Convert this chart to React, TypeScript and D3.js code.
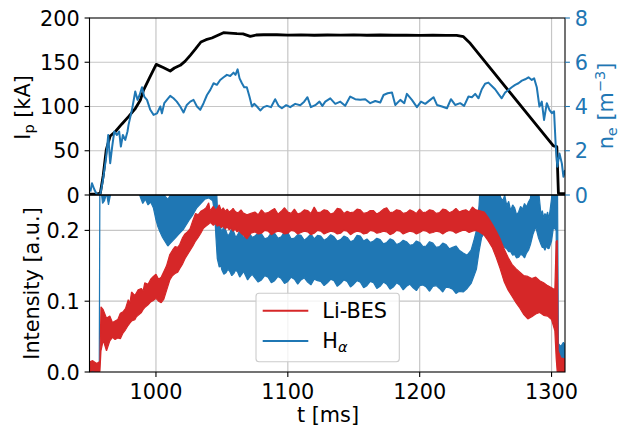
import React from 'react';
import * as d3 from 'd3';

const tTicks = [1000, 1100, 1200, 1300];
const ipTicks = [0, 50, 100, 150, 200];
const neTicks = [0, 2, 4, 6, 8];
const intTicks = [0.0, 0.1, 0.2];
const intTickLabels = ['0.0', '0.1', '0.2'];

// Plasma current Ip [kA] vs t [ms]
const ipData: [number, number][] = [
  [949.6, 1], [955, 1], [957.8, 2], [960, 22], [962.3, 51], [965.3, 66.7], [969.1, 71.5], [974, 80],
  [979.2, 88.5], [984, 97], [988.1, 107], [990.6, 118.6], [995, 132], [1000.2, 147.6], [1005.5, 144],
  [1010.8, 140.1], [1014, 143.5], [1018.4, 146.5], [1022, 151], [1026, 157.8], [1030, 165], [1034.1, 172.9],
  [1038, 175.5], [1042.4, 177.4], [1047, 180.5], [1051.2, 183.4], [1056, 183], [1061.4, 182.3], [1066, 182],
  [1071.5, 179.2], [1076, 180.8], [1081.6, 181.1], [1091.7, 181.1], [1100, 180.6], [1110, 181], [1120, 180.5],
  [1130, 180.8], [1140, 180.6], [1150, 180.9], [1160, 180.5], [1170, 180.8], [1180, 180.5], [1190, 180.7],
  [1200, 180.4], [1210, 180.6], [1220, 180.3], [1228, 180.4], [1233.2, 178.9], [1238.3, 171.4],
  [1301.4, 55.4], [1304, 54.6], [1305.2, 1.9], [1310.2, 1.5],
];

// Line-averaged density ne vs t
const neData: [number, number][] = [
  [950.3, 0.15], [951.5, 0.53], [953.2, 0.26], [955.3, 0.0], [957.8, 0.03], [959.8, 0.68], [962.3, 1.73],
  [963.8, 2.71], [965.3, 1.44], [966.8, 2.19], [968.4, 2.87], [970.4, 2.71], [972.1, 2.87], [973.4, 2.19],
  [974.9, 2.71], [976.7, 2.49], [978.4, 2.87], [979.2, 3.17], [981.8, 3.85], [984.3, 4.68], [986.0, 4.3],
  [987.6, 4.52], [989.4, 4.87], [991.1, 4.45], [993.2, 4.3], [995.7, 3.85], [998.2, 3.62], [1000.8, 3.69],
  [1003.3, 4.0], [1004.5, 3.69], [1006.3, 4.15], [1008.3, 4.3], [1010.8, 4.48], [1013.3, 4.37], [1015.8, 4.22],
  [1018.4, 4.0], [1020.9, 3.73], [1023.4, 4.07], [1026, 4.22], [1028.5, 4.3], [1031.1, 4.0], [1033.6, 3.85],
  [1036.1, 4.15], [1038.7, 4.52], [1041.2, 4.75], [1043.7, 5.05], [1046.2, 4.98], [1048.7, 5.2], [1051.3, 5.32],
  [1053.8, 5.43], [1056.3, 5.38], [1058.8, 5.53], [1060.3, 5.43], [1061.9, 5.68], [1063.4, 5.27], [1065.2, 5.05],
  [1066.9, 4.87], [1068.9, 4.87], [1070.9, 4.45], [1072.8, 4.0], [1074.5, 4.12], [1076.6, 4.0], [1079.1, 3.82],
  [1081.6, 3.97], [1084.2, 4.03], [1087.2, 3.97], [1090.4, 4.33], [1093, 4.03], [1095.5, 3.92], [1098.8, 4.06],
  [1101.8, 3.97], [1105.6, 4.12], [1109.4, 4.06], [1112.4, 4.22], [1114.9, 4.42], [1117.5, 3.97], [1120.8, 4.06],
  [1124.0, 4.22], [1126.2, 4.03], [1128.4, 4.22], [1132.2, 4.37], [1136, 4.12], [1139.8, 4.22], [1143.5, 4.03],
  [1147.3, 4.45], [1151.1, 4.33], [1154.9, 4.3], [1158.7, 4.33], [1162.5, 4.15], [1166.3, 4.25], [1170.1, 4.18],
  [1172.6, 4.52], [1175.7, 4.6], [1179, 4.63], [1181.5, 4.07], [1185.3, 4.3], [1188.3, 4.15], [1190.3, 4.57],
  [1194.1, 4.3], [1197.9, 3.97], [1201, 4.22], [1204.2, 4.12], [1208, 4.3], [1210.5, 4.42], [1213.1, 4.07],
  [1216.9, 4.0], [1220.7, 3.92], [1223.7, 4.33], [1226.9, 4.07], [1230.7, 4.15], [1233.7, 4.03], [1237, 4.45],
  [1239.6, 4.42], [1242.1, 4.57], [1244.6, 4.37], [1247.1, 4.78], [1249.6, 5.03], [1252.1, 5.08], [1254.7, 4.93],
  [1257.2, 4.78], [1259.7, 4.57], [1262.2, 4.37], [1264.8, 4.63], [1267.3, 4.75], [1269.8, 4.87], [1272.4, 4.98],
  [1274.9, 5.05], [1277.5, 5.17], [1280, 5.23], [1282.5, 5.32], [1285, 5.2], [1286.8, 5.27], [1288.8, 4.87],
  [1290.8, 4.0], [1292.6, 4.22], [1294.3, 3.39], [1296.4, 4.15], [1298.4, 3.85], [1300.2, 3.7], [1301.9, 3.78],
  [1303.2, 2.19], [1304.4, 1.28], [1306, 1.88], [1307.8, 1.43], [1309, 0.83], [1310.3, 1.13],
];

// Li-BES intensity envelope: [t, low, high]
const liData: [number, number, number][] = [
  [949.5, 0.0, 0.014], [952, 0.002, 0.016], [955, 0.0, 0.012], [957.5, 0.001, 0.015], [958.3, 0.03, 0.092],
  [960, 0.045, 0.088], [962.5, 0.03, 0.076], [965, 0.044, 0.079], [967, 0.049, 0.07], [969, 0.046, 0.072],
  [971, 0.048, 0.074], [973, 0.047, 0.083], [975, 0.055, 0.085], [977, 0.06, 0.09], [979, 0.066, 0.102],
  [980.2, 0.069, 0.097], [981.5, 0.072, 0.113], [984, 0.074, 0.108], [985.2, 0.078, 0.112], [986.5, 0.08, 0.116],
  [989, 0.084, 0.118], [990.2, 0.088, 0.114], [991.5, 0.091, 0.126], [994, 0.095, 0.124], [996, 0.099, 0.131],
  [998, 0.101, 0.135], [1000, 0.104, 0.138], [1002, 0.1, 0.131], [1004, 0.098, 0.134], [1006, 0.103, 0.142],
  [1008, 0.115, 0.15], [1010.5, 0.13, 0.166], [1012.5, 0.136, 0.172], [1014.5, 0.139, 0.177], [1016.5, 0.141, 0.176],
  [1018, 0.146, 0.18], [1020, 0.152, 0.189], [1022, 0.16, 0.195], [1024, 0.166, 0.198], [1026, 0.172, 0.203],
  [1028, 0.178, 0.214], [1030, 0.185, 0.224], [1032, 0.19, 0.222], [1034, 0.196, 0.227], [1036, 0.203, 0.229],
  [1038, 0.206, 0.232], [1040, 0.209, 0.239], [1041, 0.211, 0.228], [1042, 0.21, 0.23], [1043.5, 0.207, 0.234],
  [1045, 0.21, 0.229], [1046.5, 0.206, 0.231], [1048, 0.208, 0.236], [1049.5, 0.204, 0.228], [1051, 0.206, 0.232],
  [1052.5, 0.202, 0.227], [1054, 0.205, 0.23], [1055.5, 0.201, 0.226], [1057, 0.203, 0.228], [1058.5, 0.199, 0.231],
  [1060, 0.202, 0.227], [1061.5, 0.198, 0.225], [1063, 0.2, 0.226], [1064.5, 0.196, 0.229], [1066, 0.194, 0.225],
  [1069, 0.188, 0.222], [1072, 0.196, 0.224],
  [1075, 0.198, 0.226], [1077.5, 0.195, 0.222], [1080, 0.196, 0.229], [1082.5, 0.2, 0.224], [1085, 0.199, 0.225],
  [1087.5, 0.194, 0.228], [1090, 0.197, 0.231], [1092.5, 0.199, 0.223], [1095, 0.198, 0.227], [1097.5, 0.195, 0.232],
  [1100, 0.196, 0.226], [1102.5, 0.2, 0.224], [1105, 0.199, 0.23], [1107.5, 0.195, 0.223], [1110, 0.197, 0.225],
  [1112.5, 0.199, 0.229], [1115, 0.198, 0.228], [1117.5, 0.194, 0.224], [1120, 0.196, 0.233], [1122.5, 0.2, 0.225],
  [1125, 0.199, 0.226], [1127.5, 0.195, 0.229], [1130, 0.197, 0.228], [1132.5, 0.199, 0.223], [1135, 0.198, 0.225],
  [1137.5, 0.195, 0.231], [1140, 0.196, 0.23], [1142.5, 0.2, 0.224], [1145, 0.199, 0.227], [1147.5, 0.194, 0.225],
  [1150, 0.197, 0.226], [1152.5, 0.199, 0.23], [1155, 0.198, 0.229], [1157.5, 0.195, 0.224], [1160, 0.196, 0.225],
  [1162.5, 0.2, 0.228], [1165, 0.199, 0.228], [1167.5, 0.196, 0.223], [1170, 0.197, 0.226], [1172.5, 0.199, 0.23],
  [1175, 0.198, 0.232], [1177.5, 0.194, 0.225], [1180, 0.196, 0.226], [1182.5, 0.2, 0.229], [1185, 0.199, 0.228],
  [1187.5, 0.195, 0.224], [1190, 0.197, 0.225], [1192.5, 0.199, 0.229], [1195, 0.198, 0.227], [1197.5, 0.195, 0.224],
  [1200, 0.197, 0.23], [1202.5, 0.2, 0.225], [1205, 0.199, 0.226], [1207.5, 0.196, 0.229], [1210, 0.197, 0.228],
  [1212.5, 0.199, 0.224], [1215, 0.198, 0.225], [1217.5, 0.195, 0.23], [1220, 0.198, 0.229], [1222.5, 0.2, 0.225],
  [1225, 0.199, 0.227], [1227.5, 0.196, 0.231], [1230, 0.198, 0.226], [1232.5, 0.2, 0.228], [1235, 0.2, 0.229],
  [1237.5, 0.197, 0.226], [1240, 0.199, 0.233], [1242.5, 0.2, 0.229], [1245, 0.198, 0.228],
  [1249, 0.193, 0.226], [1252, 0.185, 0.218], [1255, 0.176, 0.209], [1258, 0.162, 0.199], [1261, 0.146, 0.188],
  [1264, 0.128, 0.174], [1267, 0.116, 0.162], [1270, 0.107, 0.152], [1273, 0.098, 0.146], [1276, 0.09, 0.141],
  [1279, 0.081, 0.136], [1282, 0.075, 0.135], [1285, 0.078, 0.132], [1288, 0.082, 0.134], [1291, 0.084, 0.129],
  [1294, 0.08, 0.126], [1297, 0.079, 0.122], [1300, 0.074, 0.119], [1302.5, 0.058, 0.116], [1303.5, 0.02, 0.184],
  [1304.3, 0.0, 0.186], [1305, 0.0, 0.03], [1307, 0.0, 0.02], [1310.2, 0.0, 0.018],
];

// H-alpha intensity envelope: [t, low, high]
const haData: [number, number, number][] = [
  [949.5, 0.0, 0.006], [957.0, 0.0, 0.006], [957.5, 0.26, 0.3], [958.5, 0.255, 0.3], [959.5, 0.238, 0.3],
  [961, 0.242, 0.3], [962.5, 0.252, 0.3], [964, 0.236, 0.3], [965.5, 0.25, 0.3], [967, 0.26, 0.3],
  [986, 0.26, 0.3], [988, 0.248, 0.3], [990, 0.238, 0.3], [992, 0.244, 0.3], [994, 0.236, 0.3], [996, 0.24, 0.3],
  [998, 0.232, 0.3], [1000, 0.215, 0.3], [1001.5, 0.205, 0.3], [1003, 0.198, 0.3], [1005, 0.19, 0.26],
  [1007, 0.184, 0.248], [1009, 0.178, 0.244], [1011, 0.182, 0.25], [1013, 0.186, 0.27], [1015, 0.19, 0.3],
  [1017, 0.194, 0.3], [1019, 0.198, 0.3], [1021, 0.202, 0.3], [1023, 0.208, 0.3], [1025, 0.214, 0.3],
  [1028, 0.222, 0.3], [1031, 0.232, 0.3], [1034, 0.238, 0.3], [1037, 0.244, 0.3], [1040, 0.246, 0.3],
  [1043, 0.242, 0.3], [1044.5, 0.225, 0.3], [1045.5, 0.19, 0.28], [1046.5, 0.16, 0.235], [1048, 0.148, 0.215],
  [1049, 0.152, 0.204], [1050, 0.144, 0.198], [1051.5, 0.138, 0.206], [1053, 0.14, 0.2], [1054.5, 0.145, 0.192],
  [1056, 0.142, 0.196], [1057.5, 0.136, 0.203], [1059, 0.139, 0.198], [1060.5, 0.144, 0.19], [1062, 0.141, 0.194],
  [1063.5, 0.134, 0.2], [1065, 0.138, 0.197], [1066.5, 0.142, 0.189], [1068, 0.136, 0.195], [1069.5, 0.13, 0.2],
  [1071, 0.134, 0.196], [1073, 0.138, 0.19],
  [1075, 0.133, 0.192], [1077.5, 0.127, 0.196], [1080, 0.13, 0.195], [1082.5, 0.136, 0.188], [1085, 0.134, 0.19],
  [1087.5, 0.126, 0.197], [1090, 0.129, 0.196], [1092.5, 0.135, 0.189], [1095, 0.132, 0.191], [1097.5, 0.125, 0.198],
  [1100, 0.128, 0.197], [1102.5, 0.134, 0.188], [1105, 0.131, 0.189], [1107.5, 0.124, 0.194], [1110, 0.13, 0.193],
  [1112.5, 0.133, 0.186], [1115, 0.127, 0.19], [1117.5, 0.123, 0.195], [1120, 0.131, 0.188], [1122.5, 0.129, 0.193],
  [1125, 0.128, 0.192], [1127.5, 0.122, 0.186], [1130, 0.126, 0.189], [1132.5, 0.131, 0.194], [1135, 0.129, 0.191],
  [1137.5, 0.121, 0.185], [1140, 0.125, 0.187], [1142.5, 0.13, 0.192], [1145, 0.128, 0.19], [1147.5, 0.12, 0.184],
  [1150, 0.124, 0.186], [1152.5, 0.129, 0.193], [1155, 0.127, 0.192], [1157.5, 0.119, 0.185], [1160, 0.122, 0.188],
  [1162.5, 0.128, 0.183], [1165, 0.126, 0.185], [1167.5, 0.118, 0.189], [1170, 0.121, 0.187], [1172.5, 0.127, 0.181],
  [1175, 0.124, 0.183], [1177.5, 0.117, 0.188], [1180, 0.12, 0.186], [1182.5, 0.126, 0.18], [1185, 0.123, 0.182],
  [1187.5, 0.116, 0.186], [1190, 0.121, 0.184], [1192.5, 0.124, 0.179], [1195, 0.119, 0.18], [1197.5, 0.115, 0.185],
  [1200, 0.122, 0.183], [1202.5, 0.123, 0.177], [1205, 0.12, 0.178], [1207.5, 0.114, 0.184], [1210, 0.121, 0.182],
  [1212.5, 0.122, 0.176], [1215, 0.118, 0.177], [1217.5, 0.113, 0.182], [1220, 0.12, 0.18], [1222.5, 0.119, 0.174],
  [1225, 0.117, 0.176], [1227.5, 0.111, 0.178], [1230, 0.114, 0.172],
  [1233, 0.113, 0.168], [1236, 0.118, 0.165], [1239, 0.125, 0.172], [1241, 0.135, 0.185], [1243, 0.145, 0.2],
  [1245, 0.17, 0.235], [1247, 0.19, 0.3], [1250, 0.2, 0.3], [1254, 0.205, 0.3], [1257, 0.195, 0.3],
  [1260, 0.186, 0.255], [1261.5, 0.182, 0.246], [1263, 0.18, 0.242], [1264.5, 0.176, 0.25], [1266, 0.174, 0.235],
  [1267.5, 0.17, 0.241], [1269, 0.17, 0.228], [1270.5, 0.165, 0.236], [1272, 0.166, 0.232], [1273.5, 0.161, 0.222],
  [1275, 0.162, 0.226], [1276.5, 0.166, 0.234], [1278, 0.165, 0.23], [1279.5, 0.161, 0.238], [1281, 0.168, 0.233],
  [1282.5, 0.172, 0.24], [1284, 0.18, 0.245], [1286, 0.195, 0.3],
  [1288, 0.205, 0.3], [1290, 0.19, 0.26], [1292, 0.18, 0.222], [1293, 0.176, 0.228], [1294, 0.176, 0.218],
  [1295, 0.172, 0.224], [1296, 0.178, 0.22], [1297, 0.175, 0.226], [1298, 0.174, 0.216], [1300, 0.185, 0.245],
  [1301.5, 0.205, 0.3], [1303.5, 0.2, 0.3], [1304.4, 0.01, 0.3],
  [1305.2, 0.008, 0.04], [1307, 0.012, 0.036], [1309, 0.01, 0.042], [1310.2, 0.012, 0.038],
];

const legendItems = [
  { label: 'Li-BES', color: '#d62728' },
  { label: 'H', sub: 'α', color: '#1f77b4' },
];

const FONT = 'DejaVu Sans';
const FS = 20.8;

export default function App() {
  const L = 89.5, R = 565, T1 = 18, B1 = 195, T2 = 195, B2 = 372;
  const x = d3.scaleLinear().domain([949.6, 1310.2]).range([L, R]);
  const yIp = d3.scaleLinear().domain([0, 200]).range([B1, T1]);
  const yNe = d3.scaleLinear().domain([0, 8]).range([B1, T1]);
  const yI = d3.scaleLinear().domain([0, 0.25]).range([B2, T2]);

  const ipLine = d3.line<[number, number]>().x(d => x(d[0])).y(d => yIp(d[1]));
  const neLine = d3.line<[number, number]>().x(d => x(d[0])).y(d => yNe(d[1]));
  const band = d3.area<[number, number, number]>().x(d => x(d[0])).y0(d => yI(d[1])).y1(d => yI(d[2]));

  const grid = '#c6c6c6';
  const blue = '#1f77b4';
  const red = '#d62728';

  return (
    <svg width={623} height={428} style={{ position: 'absolute', left: 0, top: 0, background: '#fff' }}
      fontFamily={FONT}>
      <defs>
        <clipPath id="c1"><rect x={L} y={T1} width={R - L} height={B1 - T1} /></clipPath>
        <clipPath id="c2"><rect x={L} y={T2} width={R - L} height={B2 - T2} /></clipPath>
      </defs>
      <rect x={0} y={0} width={623} height={428} fill="#fff" />

      {/* grids */}
      {tTicks.map(t => (
        <g key={'gx' + t}>
          <line x1={x(t)} x2={x(t)} y1={T1} y2={B1} stroke={grid} strokeWidth={1.2} />
          <line x1={x(t)} x2={x(t)} y1={T2} y2={B2} stroke={grid} strokeWidth={1.2} />
        </g>
      ))}
      {ipTicks.slice(1, -1).map(v => (
        <line key={'gy' + v} x1={L} x2={R} y1={yIp(v)} y2={yIp(v)} stroke={grid} strokeWidth={1.2} />
      ))}
      {intTicks.slice(1).map(v => (
        <line key={'gi' + v} x1={L} x2={R} y1={yI(v)} y2={yI(v)} stroke={grid} strokeWidth={1.2} />
      ))}

      {/* top panel */}
      <g clipPath="url(#c1)">
        <path d={ipLine(ipData) || ''} fill="none" stroke="#000" strokeWidth={2.8} strokeLinejoin="round" />
        <path d={neLine(neData) || ''} fill="none" stroke={blue} strokeWidth={2} strokeLinejoin="round" />
      </g>

      {/* bottom panel */}
      <g clipPath="url(#c2)">
        <path d={band(haData) || ''} fill={blue} stroke={blue} strokeWidth={1.2} strokeLinejoin="bevel" />
        <path d={band(liData) || ''} fill={red} stroke={red} strokeWidth={1.2} strokeLinejoin="bevel" />
      </g>

      {/* spines */}
      <rect x={L} y={T1} width={R - L} height={B1 - T1} fill="none" stroke="#000" strokeWidth={1.1} />
      <rect x={L} y={T2} width={R - L} height={B2 - T2} fill="none" stroke="#000" strokeWidth={1.1} />

      {/* left axis top */}
      {ipTicks.map(v => (
        <g key={'ip' + v}>
          <line x1={L - 4.9} x2={L} y1={yIp(v)} y2={yIp(v)} stroke="#000" strokeWidth={1.1} />
          <text x={L - 9.8} y={yIp(v)} dy="0.37em" textAnchor="end" fontSize={FS} fill="#000">{v}</text>
        </g>
      ))}
      {/* right axis top */}
      {neTicks.map(v => (
        <g key={'ne' + v}>
          <line x1={R} x2={R + 4.9} y1={yNe(v)} y2={yNe(v)} stroke={blue} strokeWidth={1.1} />
          <text x={R + 9.8} y={yNe(v)} dy="0.37em" textAnchor="start" fontSize={FS} fill={blue}>{v}</text>
        </g>
      ))}
      {/* left axis bottom */}
      {intTicks.map((v, i) => (
        <g key={'in' + v}>
          <line x1={L - 4.9} x2={L} y1={yI(v)} y2={yI(v)} stroke="#000" strokeWidth={1.1} />
          <text x={L - 9.8} y={yI(v)} dy="0.37em" textAnchor="end" fontSize={FS} fill="#000">{intTickLabels[i]}</text>
        </g>
      ))}
      {/* x axis */}
      {tTicks.map(t => (
        <g key={'xt' + t}>
          <line x1={x(t)} x2={x(t)} y1={B2} y2={B2 + 4.9} stroke="#000" strokeWidth={1.1} />
          <text x={x(t)} y={398.5} textAnchor="middle" fontSize={FS} fill="#000">{t}</text>
        </g>
      ))}

      {/* axis labels */}
      <text x={328} y={421.5} textAnchor="middle" fontSize={FS} fill="#000">t [ms]</text>
      <text transform="translate(29.5,107.5) rotate(-90)" textAnchor="middle" fontSize={FS} fill="#000">
        I<tspan fontSize={FS * 0.7} dy={4}>p</tspan><tspan dy={-4}> [kA]</tspan>
      </text>
      <text transform="translate(38.5,283.5) rotate(-90)" textAnchor="middle" fontSize={FS} fill="#000">
        Intensity [a.u.]
      </text>
      <text transform="translate(613,106) rotate(-90)" textAnchor="middle" fontSize={FS} fill={blue}>
        n<tspan fontSize={FS * 0.7} dy={4}>e</tspan><tspan dy={-4}> [m</tspan><tspan fontSize={FS * 0.7} dy={-8}>−3</tspan><tspan dy={8}>]</tspan>
      </text>

      {/* legend */}
      <rect x={256} y={293.3} width={143.3} height={68.4} rx={3} fill="#fff" fillOpacity={0.8} stroke="#cccccc" strokeWidth={1.1} />
      {legendItems.map((it, i) => {
        const yy = 310.7 + i * 30.3;
        return (
          <g key={it.label}>
            <line x1={262.7} x2={308.3} y1={yy} y2={yy} stroke={it.color} strokeWidth={2.1} />
            <text x={322.3} y={yy + 7} fontSize={FS} fill="#000">
              {it.label}
              {it.sub ? <tspan fontSize={FS * 0.7} fontStyle="italic" dy={4}>{it.sub}</tspan> : null}
            </text>
          </g>
        );
      })}
    </svg>
  );
}
